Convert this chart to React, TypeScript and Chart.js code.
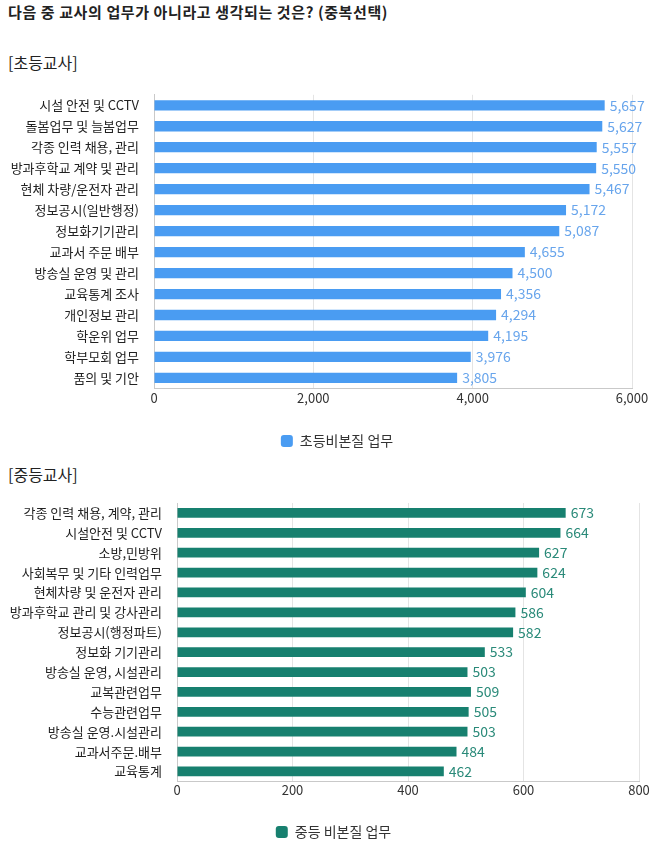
import React, { useEffect, useRef } from "react";
import { Chart, registerables } from "chart.js";

Chart.register(...registerables);

const FONT = "'Noto Sans CJK KR', 'Noto Sans', sans-serif";

const pageTitle = "다음 중 교사의 업무가 아니라고 생각되는 것은? (중복선택)";

const elemTitle = "[초등교사]";
const elemSeries = "초등비본질 업무";
const elemCategories = [
  "시설 안전 및 CCTV",
  "돌봄업무 및 늘봄업무",
  "각종 인력 채용, 관리",
  "방과후학교 계약 및 관리",
  "현체 차량/운전자 관리",
  "정보공시(일반행정)",
  "정보화기기관리",
  "교과서 주문 배부",
  "방송실 운영 및 관리",
  "교육통계 조사",
  "개인정보 관리",
  "학운위 업무",
  "학부모회 업무",
  "품의 및 기안",
];
const elemValues = [5657, 5627, 5557, 5550, 5467, 5172, 5087, 4655, 4500, 4356, 4294, 4195, 3976, 3805];
const elemTicks = [0, 2000, 4000, 6000];

const secTitle = "[중등교사]";
const secSeries = "중등 비본질 업무";
const secCategories = [
  "각종 인력 채용, 계약, 관리",
  "시설안전 및 CCTV",
  "소방,민방위",
  "사회복무 및 기타 인력업무",
  "현체차량 및 운전자 관리",
  "방과후학교 관리 및 강사관리",
  "정보공시(행정파트)",
  "정보화 기기관리",
  "방송실 운영, 시설관리",
  "교복관련업무",
  "수능관련업무",
  "방송실 운영.시설관리",
  "교과서주문.배부",
  "교육통계",
];
const secValues = [673, 664, 627, 624, 604, 586, 582, 533, 503, 509, 505, 503, 484, 462];
const secTicks = [0, 200, 400, 600, 800];

type Props = {
  categories: string[];
  values: number[];
  series: string;
  ticks: number[];
  color: string;
  valueColor: string;
  top: number;
  height: number;
  padTop: number;
  yWidth: number;
  padRight: number;
  tickPad: number;
  legendGap: number;
  legendShift: number;
};

const valueLabels = {
  id: "valueLabels",
  afterDatasetsDraw(chart: any, _args: any, opts: any) {
    const ctx = chart.ctx;
    const meta = chart.getDatasetMeta(0);
    const data = chart.data.datasets[0].data as number[];
    ctx.save();
    ctx.font = `14px ${FONT}`;
    ctx.fillStyle = opts.color;
    ctx.textAlign = "left";
    ctx.textBaseline = "middle";
    meta.data.forEach((bar: any, i: number) => {
      ctx.fillText(data[i].toLocaleString("en-US"), bar.x + 5, bar.y);
    });
    ctx.restore();
  },
};

const legendShift = {
  id: "legendShift",
  afterLayout(chart: any, _args: any, opts: any) {
    const l = chart.legend;
    if (l && opts.shift) {
      l.left += opts.shift;
      l.right += opts.shift;
    }
  },
};

function BarChart(p: Props) {
  const ref = useRef<HTMLCanvasElement | null>(null);
  useEffect(() => {
    if (!ref.current) return;
    const chart = new Chart(ref.current, {
      type: "bar",
      data: {
        labels: p.categories,
        datasets: [
          {
            label: p.series,
            data: p.values,
            backgroundColor: p.color,
            borderWidth: 0,
            barPercentage: 0.98,
            categoryPercentage: 0.5,
          },
        ],
      },
      options: {
        indexAxis: "y",
        animation: false,
        responsive: false,
        maintainAspectRatio: false,
        layout: { padding: { top: p.padTop, right: p.padRight, left: 0, bottom: 0 } },
        scales: {
          x: {
            min: p.ticks[0],
            max: p.ticks[p.ticks.length - 1],
            afterBuildTicks: (scale: any) => {
              scale.ticks = p.ticks.map((v) => ({ value: v }));
            },
            afterFit: (scale: any) => {
              scale.height += p.legendGap;
            },
            grid: { color: "#e4e4e4", drawTicks: false },
            border: { color: "#c9c9c9" },
            ticks: {
              padding: p.tickPad,
              color: "#333",
              font: { family: FONT, size: 13 },
              callback: (v: any) => Number(v).toLocaleString("en-US"),
            },
          },
          y: {
            afterFit: (scale: any) => {
              scale.width = p.yWidth;
            },
            grid: { display: false },
            border: { color: "#c9c9c9" },
            ticks: {
              padding: 7,
              color: "#222",
              font: { family: FONT, size: 13 },
              autoSkip: false,
            },
          },
        },
        plugins: {
          legend: {
            position: "bottom",
            labels: {
              color: "#333",
              font: { family: FONT, size: 14 },
              boxWidth: 12,
              boxHeight: 12,
              useBorderRadius: true,
              borderRadius: 3,
              padding: 10,
            },
          },
          tooltip: { enabled: false },
          valueLabels: { color: p.valueColor },
          legendShift: { shift: p.legendShift },
        } as any,
      },
      plugins: [valueLabels, legendShift],
    });
    return () => chart.destroy();
  }, []);
  return (
    <canvas
      ref={ref}
      width={658}
      height={p.height}
      style={{ position: "absolute", left: 0, top: p.top, width: 658, height: p.height }}
    />
  );
}

const textStyle: React.CSSProperties = {
  position: "absolute",
  left: 8,
  fontFamily: FONT,
  color: "#222",
  whiteSpace: "nowrap",
  margin: 0,
};

export default function App() {
  return (
    <div style={{ position: "absolute", left: 0, top: 0, width: 658, height: 849, background: "#fff", overflow: "hidden" }}>
      <div style={{ ...textStyle, top: 2, fontSize: 15, fontWeight: 700, letterSpacing: 0.6, lineHeight: "20px" }}>{pageTitle}</div>
      <div style={{ ...textStyle, top: 52, fontSize: 16, lineHeight: "20px" }}>{elemTitle}</div>
      <BarChart
        categories={elemCategories}
        values={elemValues}
        series={elemSeries}
        ticks={elemTicks}
        color="#4a9cf2"
        valueColor="#68a5ec"
        top={80}
        height={378}
        padTop={8}
        yWidth={154}
        padRight={26}
        tickPad={2}
        legendGap={16}
        legendShift={21}
      />
      <div style={{ ...textStyle, top: 464, fontSize: 16, lineHeight: "20px" }}>{secTitle}</div>
      <BarChart
        categories={secCategories}
        values={secValues}
        series={secSeries}
        ticks={secTicks}
        color="#17806f"
        valueColor="#2a8a79"
        top={480}
        height={369}
        padTop={23}
        yWidth={177}
        padRight={19}
        tickPad={1}
        legendGap={16}
        legendShift={14}
      />
    </div>
  );
}
